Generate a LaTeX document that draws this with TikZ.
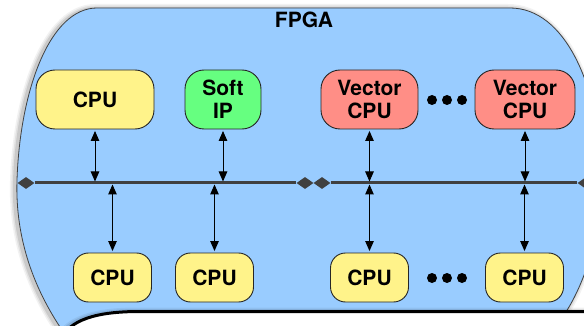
\documentclass[tikz,border=0pt]{standalone}
\usepackage{fontspec}
\setmainfont{TeX Gyre Heros}
\usepackage{tikz}
\usetikzlibrary{arrows.meta,positioning,shapes.geometric}
\definecolor{fpgablue}{RGB}{153,204,255}
\definecolor{cpuyellow}{RGB}{255,243,138}
\definecolor{ipgreen}{RGB}{102,255,128}
\definecolor{vecred}{RGB}{255,142,134}
\definecolor{busgray}{RGB}{64,64,64}
\tikzset{
  unit/.style={draw=black!85,line width=0.9pt,align=center,
    inner sep=0pt,font=\bfseries\fontsize{21}{23}\selectfont},
  topunit/.style={unit,rounded corners=19pt,minimum height=59pt},
  lowunit/.style={unit,rounded corners=15pt,fill=cpuyellow,minimum height=49pt,minimum width=78pt},
  link/.style={{Triangle[length=10pt,width=8.5pt]}-{Triangle[length=10pt,width=8.5pt]},
    line width=1pt,shorten <=1.5pt},
  bus/.style={busgray,line width=3pt},
  busend/.style={diamond,fill=busgray,inner sep=0pt,minimum width=17pt,minimum height=12pt},
  dot/.style={circle,fill,inner sep=0pt,minimum size=10pt}
}

\begin{document}
\begin{tikzpicture}[x=1pt,y=-1pt]
  \useasboundingbox (0,0) rectangle (584,326);
  \clip (0,0) rectangle (584,326);
  \def\fpga{(97,8) -- (510,8) .. controls (565,8) and (598,85) .. (602,170)
    .. controls (603,230) and (585,285) .. (562,318) -- (62,330)
    .. controls (35,290) and (15,240) .. (17,180)
    .. controls (20,90) and (50,8) .. (97,8) -- cycle}
  % fpga body
  \foreach \w/\o in {10/0.05,7/0.07,4/0.10}
    \draw[line width=\w pt,black,opacity=\o,shift={(-2,1)}] \fpga;
  \draw[fill=fpgablue,draw=black!75,line width=0.8pt] \fpga;
  \node[font=\bfseries\fontsize{21}{23}\selectfont] (fpga) at (304,20) {FPGA};
  % lower board
  \foreach \w/\o in {8/0.06,5/0.09}
    \draw[line width=\w pt,black,opacity=\o,shift={(-2,0)}]
      (60,340) .. controls (70,320) and (95,311.5) .. (140,311.5) -- (600,311.5);
  \draw[line width=3pt,fill=white]
    (60,340) .. controls (70,320) and (95,311.5) .. (140,311.5) -- (600,311.5)
    -- (600,340) -- cycle;
  % processors
  \node[topunit,fill=cpuyellow,minimum width=118pt] (cpuA) at (95,99.5) {CPU};
  \node[topunit,fill=ipgreen,minimum width=76pt] (softip) at (223,99.5) {Soft\\IP};
  \node[topunit,fill=vecred,minimum width=97pt] (vecA) at (369.5,99.5) {Vector\\CPU};
  \node[topunit,fill=vecred,minimum width=100pt] (vecB) at (525,99.5) {Vector\\CPU};
  \node[lowunit] (cpuB) at (112.5,277.5) {CPU};
  \node[lowunit] (cpuC) at (214.5,277.5) {CPU};
  \node[lowunit] (cpuD) at (369.5,277.5) {CPU};
  \node[lowunit] (cpuE) at (524.5,277.5) {CPU};
  \foreach \X in {432,447,462}{
    \node[dot] (dotT\X) at (\X,100) {};
    \node[dot] (dotB\X) at (\X,278) {};
  }
  % bus
  \node[busend] (busL) at (26,183) {};
  \node[busend] (busM) at (305,183) {};
  \node[busend] (busN) at (322,183) {};
  \node[busend] (busR) at (586,183) {};
  \draw[bus] (busL) -- (busM);
  \draw[bus] (busN) -- (busR);
  % links
  \foreach \n in {cpuA,softip,vecA,vecB}
    \draw[link,shorten >=1.5pt] (\n) -- (\n |- busL);
  \foreach \n in {cpuB,cpuC,cpuD,cpuE}
    \draw[link,shorten <=1.5pt,shorten >=1.5pt] (busL -| \n) -- (\n);
\end{tikzpicture}
\end{document}
